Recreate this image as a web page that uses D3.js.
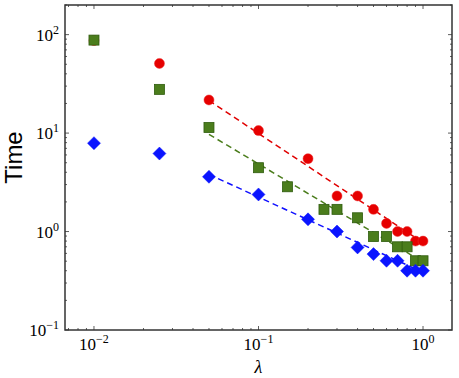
<!DOCTYPE html>
<html>
<head>
<meta charset="utf-8">
<script src="https://cdn.jsdelivr.net/npm/d3@7"></script>
<style>
  body { margin: 0; background: #fff; }
  .tick-label { font-family: "Liberation Serif", "DejaVu Serif", serif; fill: #000; }
</style>
</head>
<body>
<div id="chart"></div>
<script>

// lambda values for each series
var redX   = [0.01, 0.025, 0.05, 0.1, 0.2, 0.3, 0.4, 0.5, 0.6, 0.7, 0.8, 0.9, 1.0];
var redY   = [87, 51, 21.7, 10.6, 5.5, 2.3, 2.3, 1.68, 1.21, 1.0, 1.0, 0.8, 0.8];

var greenX = [0.01, 0.025, 0.05, 0.1, 0.15, 0.25, 0.3, 0.4, 0.5, 0.6, 0.7, 0.8, 0.9, 1.0];
var greenY = [88, 27.8, 11.4, 4.45, 2.85, 1.68, 1.68, 1.38, 0.89, 0.89, 0.70, 0.70, 0.505, 0.505];

var blueX  = [0.01, 0.025, 0.05, 0.1, 0.2, 0.3, 0.4, 0.5, 0.6, 0.7, 0.8, 0.9, 1.0];
var blueY  = [7.9, 6.2, 3.6, 2.38, 1.33, 1.0, 0.69, 0.59, 0.505, 0.505, 0.40, 0.40, 0.40];

// dashed fit lines (end points)
var fitX      = [0.05, 1.0];
var redFitY   = [21.4, 0.77];
var greenFitY = [9.7, 0.49];
var blueFitY  = [3.8, 0.385];

var xTickVals = [0.01, 0.1, 1];
var xTickExp  = ["\u22122", "\u22121", "0"];
var yTickVals = [0.1, 1, 10, 100];
var yTickExp  = ["\u22121", "0", "1", "2"];

var margin = { top: 5, right: 7, bottom: 48, left: 65 };
var width = 459 - margin.left - margin.right,
    height = 378 - margin.top - margin.bottom;

var svg = d3.select("#chart").append("svg")
    .attr("width", 459)
    .attr("height", 378)
  .append("g")
    .attr("transform", "translate(" + margin.left + "," + margin.top + ")");

var x = d3.scaleLog()
    .domain([1 / 150, 1.5])
    .range([0, width]);

var y = d3.scaleLog()
    .domain([0.1, 200])
    .range([height, 0]);

// minor ticks 2..9 per decade
function minorTicks(scale) {
  var out = [];
  var dom = scale.domain();
  for (var e = -3; e <= 3; e++) {
    for (var m = 1; m <= 9; m++) {
      var v = m * Math.pow(10, e);
      if (v >= dom[0] && v <= dom[1]) out.push({ v: v, major: m === 1 });
    }
  }
  return out;
}

var tickColor = "#333";
var xt = minorTicks(x), yt = minorTicks(y);

// ticks point inward on all four sides
svg.selectAll(".xtick-b").data(xt).enter().append("line")
    .attr("x1", function(d) { return x(d.v); })
    .attr("x2", function(d) { return x(d.v); })
    .attr("y1", height)
    .attr("y2", function(d) { return height - (d.major ? 4 : 2); })
    .attr("stroke", tickColor).attr("stroke-width", 0.8);

svg.selectAll(".xtick-t").data(xt).enter().append("line")
    .attr("x1", function(d) { return x(d.v); })
    .attr("x2", function(d) { return x(d.v); })
    .attr("y1", 0)
    .attr("y2", function(d) { return d.major ? 4 : 2; })
    .attr("stroke", tickColor).attr("stroke-width", 0.8);

svg.selectAll(".ytick-l").data(yt).enter().append("line")
    .attr("y1", function(d) { return y(d.v); })
    .attr("y2", function(d) { return y(d.v); })
    .attr("x1", 0)
    .attr("x2", function(d) { return d.major ? 4 : 2; })
    .attr("stroke", tickColor).attr("stroke-width", 0.8);

svg.selectAll(".ytick-r").data(yt).enter().append("line")
    .attr("y1", function(d) { return y(d.v); })
    .attr("y2", function(d) { return y(d.v); })
    .attr("x1", width)
    .attr("x2", function(d) { return width - (d.major ? 4 : 2); })
    .attr("stroke", tickColor).attr("stroke-width", 0.8);

// tick labels with superscript exponent
var xl = svg.selectAll(".xlab").data(xTickVals).enter().append("text")
    .attr("class", "tick-label")
    .attr("x", function(d) { return x(d); })
    .attr("y", height + 20)
    .attr("text-anchor", "middle")
    .style("font-size", "17px");
xl.append("tspan").text("10");
xl.append("tspan")
    .attr("dy", -7)
    .style("font-size", "12px")
    .text(function(d, i) { return xTickExp[i]; });

var yl = svg.selectAll(".ylab").data(yTickVals).enter().append("text")
    .attr("class", "tick-label")
    .attr("x", -6)
    .attr("y", function(d) { return y(d) + 6; })
    .attr("text-anchor", "end")
    .style("font-size", "17px");
yl.append("tspan").text("10");
yl.append("tspan")
    .attr("dy", -7)
    .style("font-size", "12px")
    .text(function(d, i) { return yTickExp[i]; });

// fit lines
var line = d3.line()
    .x(function(d) { return x(d[0]); })
    .y(function(d) { return y(d[1]); });

function drawFit(ys, color) {
  svg.append("path")
      .datum(d3.zip(fitX, ys))
      .attr("fill", "none")
      .attr("stroke", color)
      .attr("stroke-width", 1.5)
      .attr("stroke-dasharray", "6,4")
      .attr("d", line);
}
drawFit(redFitY, "#e00000");
drawFit(greenFitY, "#4b7d1c");
drawFit(blueFitY, "#1010ff");

// markers
svg.selectAll(".red").data(d3.zip(redX, redY)).enter().append("circle")
    .attr("cx", function(d) { return x(d[0]); })
    .attr("cy", function(d) { return y(d[1]); })
    .attr("r", 5)
    .attr("fill", "#e60000")
    .attr("stroke", "#ee3333")
    .attr("stroke-width", 0.5);

svg.selectAll(".green").data(d3.zip(greenX, greenY)).enter().append("rect")
    .attr("x", function(d) { return x(d[0]) - 5; })
    .attr("y", function(d) { return y(d[1]) - 5; })
    .attr("width", 10)
    .attr("height", 10)
    .attr("fill", "#4b7d1c")
    .attr("stroke", "#2f5c0e")
    .attr("stroke-width", 0.8);

var dia = "M0,-6.5L6.5,0L0,6.5L-6.5,0Z";
svg.selectAll(".blue").data(d3.zip(blueX, blueY)).enter().append("path")
    .attr("transform", function(d) { return "translate(" + x(d[0]) + "," + y(d[1]) + ")"; })
    .attr("d", dia)
    .attr("fill", "#0a14ff")
    .attr("stroke", "#0a14ff")
    .attr("stroke-width", 0.5);

// frame
svg.append("rect")
    .attr("width", width)
    .attr("height", height)
    .attr("fill", "none")
    .attr("stroke", "#333")
    .attr("stroke-width", 1.5);

// axis titles
svg.append("text")
    .attr("transform", "translate(" + (-margin.left + 22) + "," + (height / 2 - 10) + ") rotate(-90)")
    .attr("text-anchor", "middle")
    .style("font-family", "'Liberation Sans', Arial, sans-serif")
    .style("font-size", "24px")
    .text("Time");

svg.append("text")
    .attr("x", width / 2)
    .attr("y", height + 43)
    .attr("text-anchor", "middle")
    .style("font-family", "'Liberation Serif', 'DejaVu Serif', serif")
    .style("font-style", "italic")
    .style("font-size", "18px")
    .text("\u03bb");

</script>
</body>
</html>
